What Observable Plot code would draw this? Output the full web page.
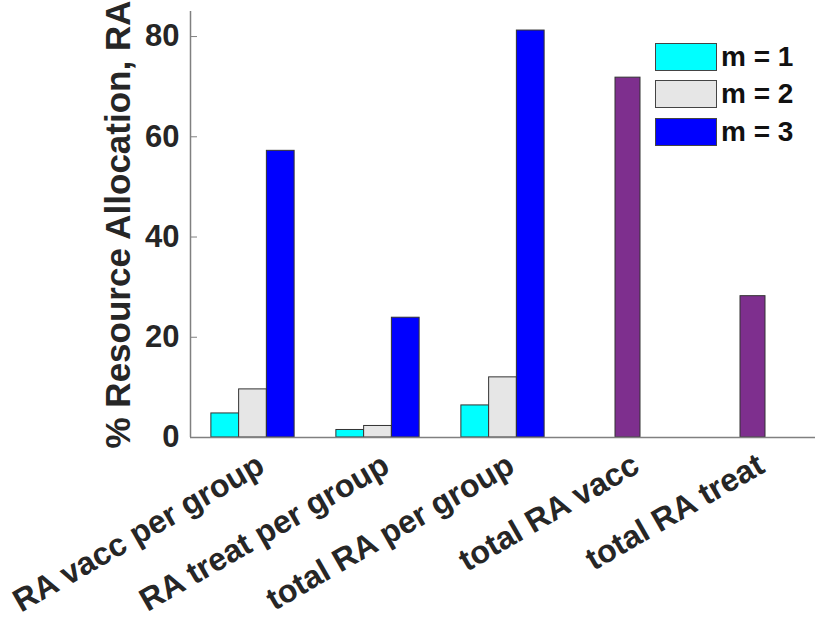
<!DOCTYPE html>
<html lang="en">
<head>
    <meta charset="UTF-8">
    <title>Resource Allocation</title>
    <script src="https://cdn.jsdelivr.net/npm/d3@7"></script>
    <script src="https://cdn.jsdelivr.net/npm/@observablehq/plot@0.6/dist/plot.umd.min.js"></script>
    <style>
        body { margin: 0; background: #fff; }
        #chart { position: relative; width: 830px; height: 623px; font-family: "Liberation Sans", Arial, sans-serif; }
        #legend { position: absolute; left: 655px; top: 38px; font-weight: bold; font-size: 28px; color: #111; }
        #legend .row { display: flex; align-items: center; height: 37.5px; }
        #legend .sw { width: 60px; height: 26px; border: 1px solid #444; margin-right: 4px; box-sizing: content-box; }
    </style>
</head>
<body>
<div id="chart"><div id="legend"></div></div>

<script>
// categories and values
const categories = ["RA vacc per group", "RA treat per group", "total RA per group", "total RA vacc", "total RA treat"];
const m1 = [4.8, 1.5, 6.4, null, null];
const m2 = [9.6, 2.3, 12.0, null, null];
const m3 = [57.2, 23.9, 81.2, null, null];
const total = [null, null, null, 71.8, 28.2];
const yTicks = [0, 20, 40, 60, 80];

const seriesNames = ["m = 1", "m = 2", "m = 3", "total"];
const seriesColors = ["#00ffff", "#e6e6e6", "#0000ff", "#7e2f8e"];
const seriesValues = [m1, m2, m3, total];

// slot inside a group and bar width (in group units)
const slot = {"m = 1": -1, "m = 2": 0, "m = 3": 1, "total": 0};
const barW = 0.222;
const widthOf = d => d.series === "total" ? 0.2 : barW;

const rows = [];
categories.forEach((c, i) => {
  seriesNames.forEach((s, j) => {
    const v = seriesValues[j][i];
    if (v != null) rows.push({cat: c, g: i + 1, series: s, value: v});
  });
});

const plot = Plot.plot({
  width: 830,
  height: 623,
  marginLeft: 190,
  marginRight: 15,
  marginTop: 11,
  marginBottom: 186,
  style: {fontFamily: "Liberation Sans, Arial, sans-serif", fontWeight: "bold", color: "#262626", background: "white"},
  x: {domain: [0.5, 5.5], axis: null},
  y: {domain: [0, 85], axis: null},
  color: {domain: seriesNames, range: seriesColors},
  marks: [
    Plot.rectY(rows, {
      x1: d => d.g + slot[d.series] * barW - widthOf(d) / 2,
      x2: d => d.g + slot[d.series] * barW + widthOf(d) / 2,
      y: "value",
      fill: "series",
      stroke: "#333",
      strokeWidth: 1
    }),
    Plot.ruleY([0], {stroke: "#808080", strokeWidth: 1.5}),
    Plot.ruleX([0.5], {stroke: "#808080", strokeWidth: 1.5}),
    Plot.axisY({ticks: yTicks, tickSize: -7, tickPadding: 18, fontSize: 31, stroke: "#808080", label: null}),
    Plot.text(categories, {
      x: (d, i) => i + 1,
      y: 0,
      text: d => d,
      rotate: -30,
      textAnchor: "end",
      lineAnchor: "top",
      dx: 2,
      dy: 14,
      fontSize: 32,
      fill: "#262626"
    }),
    Plot.text(["% Resource Allocation, RA"], {
      frameAnchor: "left",
      textAnchor: "middle",
      rotate: -90,
      dx: -72,
      fontSize: 35,
      fill: "#262626"
    })
  ]
});

document.querySelector("#chart").prepend(plot);

// legend inside the axes, top right
const legend = document.querySelector("#legend");
seriesNames.slice(0, 3).forEach((s, i) => {
  const row = document.createElement("div");
  row.className = "row";
  row.innerHTML = `<span class="sw" style="background:${seriesColors[i]}"></span><span>${s}</span>`;
  legend.append(row);
});
</script>
</body>
</html>
